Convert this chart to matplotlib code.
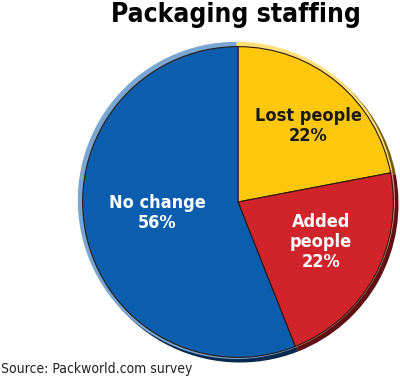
import matplotlib.pyplot as plt
import matplotlib.colors as mcolors
import numpy as np

# data
labels = ['Lost people\n22%', 'Added\npeople\n22%', 'No change\n56%']
shares = [22, 22, 56]
colors = ['#FDC70C', '#D1232A', '#0B5EAD']
text_colors = ['#1a1a1a', 'white', 'white']

title = 'Packaging staffing'
source = 'Source: Packworld.com survey'


def shade(c, f):
    # f > 0 lighter, f < 0 darker
    rgb = np.array(mcolors.to_rgb(c))
    if f > 0:
        return tuple(rgb + (1 - rgb) * f)
    return tuple(rgb * (1 + f))


fig = plt.figure(figsize=(4, 3.79), dpi=100)
W, H = 400, 379
cx, cy, r = 238, 202, 161
ax = fig.add_axes([(cx - r) / W, (H - cy - r) / H, 2 * r / W, 2 * r / H])
ax.set_xlim(-1, 1)
ax.set_ylim(-1, 1)
ax.set_aspect('equal')
ax.axis('off')

# bevel: dark rim lower-right, light rim upper-left
ax.pie(shares, colors=[shade(c, -0.55) for c in colors], startangle=90,
       counterclock=False, radius=0.985, center=(0.012, -0.012),
       wedgeprops=dict(linewidth=0))
ax.pie(shares, colors=[shade(c, 0.45) for c in colors], startangle=90,
       counterclock=False, radius=0.985, center=(-0.01, 0.01),
       wedgeprops=dict(linewidth=0))
ax.pie(shares, colors=colors, startangle=90, counterclock=False,
       radius=0.965, center=(0, 0),
       wedgeprops=dict(linewidth=0.8, edgecolor='#2a1a10'))
ax.set_xlim(-1, 1)
ax.set_ylim(-1, 1)

# labels placed in axes data coords
label_pos = [(0.435, 0.47), (0.515, -0.25), (-0.50, -0.07)]
for lab, (x, y), tc in zip(labels, label_pos, text_colors):
    ax.text(x, y, lab, ha='center', va='center', color=tc, fontsize=13,
            fontweight='bold', family='DejaVu Sans', fontstretch='condensed',
            linespacing=1.15)

fig.text(236 / W, 1 - 15 / H, title, ha='center', va='center',
         fontsize=19, fontweight='bold', family='DejaVu Sans',
         fontstretch='condensed', color='black')
fig.text(1 / W, 1 - 369 / H, source, ha='left', va='center', fontsize=10,
         family='DejaVu Sans', fontstretch='condensed', color='#222222')

fig.savefig('out.png', dpi=100, facecolor='white')
